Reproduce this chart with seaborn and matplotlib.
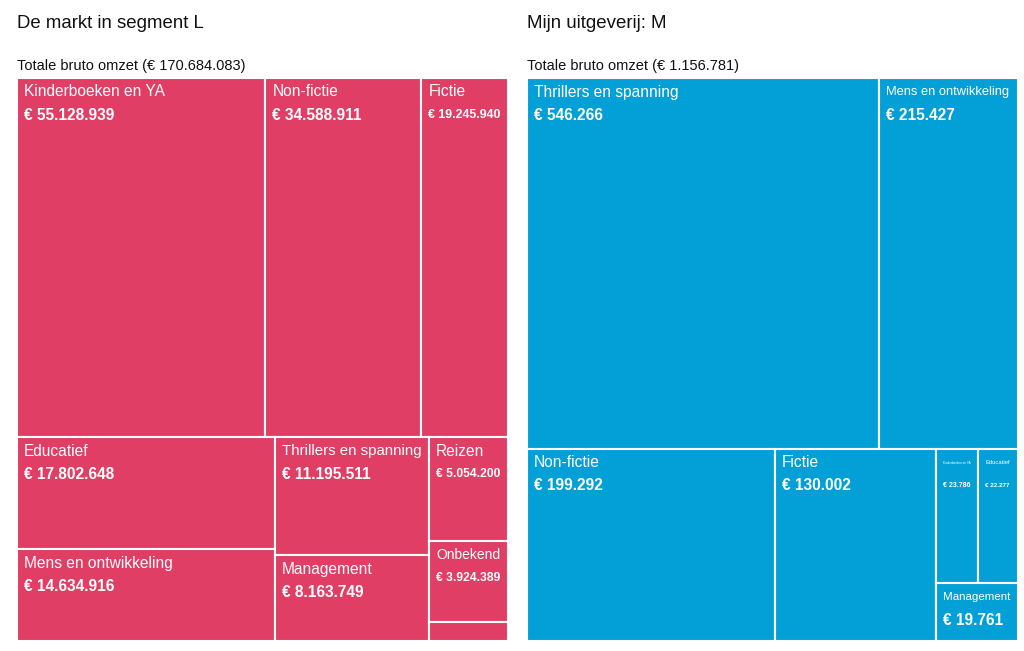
import matplotlib
matplotlib.use("Agg")
import matplotlib.pyplot as plt
from matplotlib.patches import Rectangle
import seaborn as sns

# Data: bruto omzet per categorie
markt_labels = ["Kinderboeken en YA", "Non-fictie", "Fictie", "Educatief",
                "Mens en ontwikkeling", "Thrillers en spanning", "Management",
                "Reizen", "Onbekend", "Overig"]
markt_values = [55128939, 34588911, 19245940, 17802648, 14634916,
                11195511, 8163749, 5054200, 3924389, 944880]
markt_total = 170684083

uitgeverij_labels = ["Thrillers en spanning", "Mens en ontwikkeling", "Non-fictie",
                     "Fictie", "Kinderboeken en YA", "Educatief", "Management"]
uitgeverij_values = [546266, 215427, 199292, 130002, 23786, 22277, 19761]
uitgeverij_total = 1156781

titles = ["De markt in segment L", "Mijn uitgeverij: M"]

sns.set_theme(style="white")
plt.rcParams["font.family"] = ["Liberation Sans", "DejaVu Sans"]


def squarify(values, x0, y0, x1, y1, ratio=2.1):
    # squarify zoals d3.treemapSquarify, iets langere rijen
    rects = []
    value = float(sum(values))
    i0 = i1 = 0
    n = len(values)
    while i0 < n:
        dx, dy = x1 - x0, y1 - y0
        sum_v = values[i1]
        i1 += 1
        min_v = max_v = sum_v
        alpha = max(dy / dx, dx / dy) / (value * ratio)
        beta = sum_v * sum_v * alpha
        min_ratio = max(max_v / beta, beta / min_v)
        while i1 < n:
            v = values[i1]
            sum_v += v
            min_v = min(min_v, v)
            max_v = max(max_v, v)
            beta = sum_v * sum_v * alpha
            new_ratio = max(max_v / beta, beta / min_v)
            if new_ratio > min_ratio:
                sum_v -= v
                break
            min_ratio = new_ratio
            i1 += 1
        row = values[i0:i1]
        if dx < dy:
            h = dy * sum_v / value
            xx = x0
            for v in row:
                w = dx * v / sum_v
                rects.append((xx, y0, w, h))
                xx += w
            y0 += h
        else:
            w = dx * sum_v / value
            yy = y0
            for v in row:
                h = dy * v / sum_v
                rects.append((x0, yy, w, h))
                yy += h
            x0 += w
        value -= sum_v
        i0 = i1
    return rects


def euro(v):
    return "€ " + f"{v:,}".replace(",", ".")


fig = plt.figure(figsize=(10.24, 6.51), dpi=100)
renderer = fig.canvas.get_renderer()

W, H = 491, 563
panels = [
    (17, markt_labels, markt_values, markt_total, "#E03E64"),
    (527, uitgeverij_labels, uitgeverij_values, uitgeverij_total, "#03A0D8"),
]


def fit_text(ax, x, y, s, avail, size, weight):
    t = ax.text(x, y, s, color="white", fontsize=size, fontweight=weight,
                ha="left", va="center")
    w = t.get_window_extent(renderer).width
    if w > avail:
        t.set_fontsize(size * avail / w)
    return t


for k, (left, labels, values, total, color) in enumerate(panels):
    ax = fig.add_axes([left / 1024, (651 - 641) / 651, W / 1024, H / 651])
    ax.set_xlim(0, W)
    ax.set_ylim(H, 0)
    ax.set_axis_off()

    rects = squarify(values, 0, 0, W, H)
    for (x, y, w, h), lab, val in zip(rects, labels, values):
        ax.add_patch(Rectangle((x, y), w, h, facecolor=color,
                               edgecolor="white", linewidth=1.5))
        if h < 30:
            continue
        avail = w - 15
        fit_text(ax, x + 7, y + 14, lab, avail, 11.2, "normal")
        fit_text(ax, x + 7, y + 37, euro(val), avail, 11.2, "bold")

    fig.text(left / 1024, 1 - 23 / 651, titles[k], fontsize=13.4,
             color="#111111", ha="left", va="center")
    fig.text(left / 1024, 1 - 66 / 651, f"Totale bruto omzet ({euro(total)})",
             fontsize=10.5, color="#111111", ha="left", va="center")

fig.savefig("out.png", dpi=100, facecolor="white")
